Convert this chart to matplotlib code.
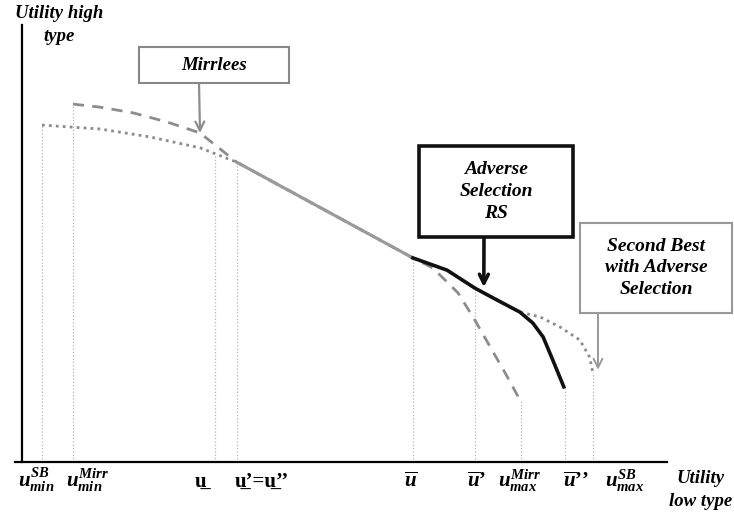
import matplotlib.pyplot as plt
from matplotlib.patches import Rectangle

plt.rcParams['mathtext.fontset'] = 'custom'
plt.rcParams['mathtext.rm'] = 'Liberation Serif:bold'
plt.rcParams['mathtext.it'] = 'Liberation Serif:italic:bold'
plt.rcParams['mathtext.bf'] = 'Liberation Serif:bold'

W, H = 734, 514
SERIF = ['Liberation Serif', 'DejaVu Serif']

# second best frontier (dotted)
sb_x = [3.1, 12.1, 19.8, 27.6, 33.3, 60.6, 65.9, 70.2, 73.6, 77.2, 80.3, 83.4, 86.5, 88.0, 88.5]
sb_y = [77.1, 76.2, 74.4, 71.9, 68.6, 46.7, 43.9, 39.8, 37.1, 34.3, 33.2, 30.9, 27.9, 24.0, 20.5]

# Mirrlees frontier (dashed)
mirr_x = [7.9, 12.1, 17.2, 22.5, 27.6, 33.3, 60.6, 63.7, 67.6, 70.2, 72.6, 74.9, 77.2]
mirr_y = [81.9, 81.2, 79.9, 77.8, 75.3, 68.6, 46.7, 44.4, 38.7, 32.5, 26.3, 20.4, 14.2]

# common part of both frontiers
common_x = [33.3, 60.6]
common_y = [68.6, 46.7]

# adverse selection RS (solid black)
rs_x = [60.6, 65.9, 70.2, 73.6, 77.2, 79.2, 80.8, 82.3, 84.0]
rs_y = [46.7, 43.9, 39.8, 37.1, 34.3, 31.8, 28.6, 23.3, 17.2]

# reference points on the low type axis
guide_x = [3.1, 7.9, 29.9, 33.3, 60.6, 70.2, 77.4, 84.2, 88.5]
guide_top = [77.1, 81.9, 70.0, 68.6, 46.7, 39.8, 14.2, 17.2, 20.5]
point_labels = [
    r'$u^{SB}_{min}$',
    r'$u^{Mirr}_{min}$',
    'u\u0332',
    'u\u0332\u2019=u\u0332\u2019\u2019',
    r'$\overline{u}$',
    r'$\overline{u}$' + '\u2019',
    r'$u^{Mirr}_{max}$',
    r'$\overline{u}$' + '\u2019\u2019',
    r'$u^{SB}_{max}$',
]
label_x = [2.2, 10.2, 27.6, 37.2, 60.3, 70.5, 77.1, 85.9, 93.5]


def fig_xy(px, py):
    return px / W, 1 - py / H


def caja(fig, x0, y0, x1, y1, texto, borde, ancho, fs):
    fx0, fy1 = fig_xy(x0, y1)
    rect = Rectangle((fx0, fy1), (x1 - x0) / W, (y1 - y0) / H, transform=fig.transFigure,
                     facecolor='white', edgecolor=borde, lw=ancho, zorder=5)
    fig.add_artist(rect)
    cx, cy = fig_xy((x0 + x1) / 2, (y0 + y1) / 2)
    fig.text(cx, cy, texto, ha='center', va='center', fontsize=fs, family=SERIF,
             weight='bold', style='italic', linespacing=1.35, zorder=6)


fig = plt.figure(figsize=(W / 100, H / 100), dpi=100)
ax = fig.add_axes([15 / W, 52 / H, 652 / W, 437 / H])
ax.set_xlim(-7 / 6.45, 100)
ax.set_ylim(0, 100)

ax.vlines(guide_x, 0, guide_top, colors='#b5b5b5', linestyles=':', lw=0.9)
ax.plot(sb_x, sb_y, color='#8c8c8c', lw=2, linestyle=(0, (1, 1.5)))
ax.plot(mirr_x, mirr_y, color='#8c8c8c', lw=2, linestyle=(0, (4, 3)))
ax.plot(common_x, common_y, color='#9a9a9a', lw=2.2)
ax.plot(rs_x, rs_y, color='#111111', lw=2.6)

for s in ['top', 'right']:
    ax.spines[s].set_visible(False)
for s in ['left', 'bottom']:
    ax.spines[s].set_linewidth(1.6)
ax.spines['left'].set_position(('data', 0))
ax.set_yticks([])
ax.set_xticks([])

for lx, lab in zip(label_x, point_labels):
    ax.text(lx, -25 / 437, lab, transform=ax.get_xaxis_transform(), ha='center',
            va='baseline', fontsize=15, family=SERIF, weight='bold')

fig.text(59 / W, 1 - 25 / H, 'Utility high\ntype', ha='center', va='center', fontsize=13.5,
         family=SERIF, weight='bold', style='italic', linespacing=1.5)
fig.text(701 / W, 1 - 490 / H, 'Utility\nlow type', ha='center', va='center', fontsize=13.5,
         family=SERIF, weight='bold', style='italic', linespacing=1.4)

caja(fig, 139, 47, 289, 83, 'Mirrlees', '#888888', 1.5, 13.5)
caja(fig, 419, 146, 573, 237, 'Adverse\nSelection\nRS', '#111111', 2.6, 14)
caja(fig, 580, 223, 732, 313, 'Second Best\nwith Adverse\nSelection', '#999999', 1.5, 14)

flecha = dict(arrowstyle='->', shrinkA=0, shrinkB=0, mutation_scale=16)
ax.annotate('', xy=(27.6, 75.3), xytext=fig_xy(199, 83), textcoords='figure fraction',
            arrowprops=dict(flecha, color='#8c8c8c', lw=1.6))
ax.annotate('', xy=(71.6, 40.0), xytext=fig_xy(484, 237), textcoords='figure fraction',
            arrowprops=dict(flecha, color='#111111', lw=2.6))
ax.annotate('', xy=(89.3, 21.1), xytext=fig_xy(598, 313), textcoords='figure fraction',
            arrowprops=dict(flecha, color='#999999', lw=1.4))

fig.savefig('out.png', dpi=100)
